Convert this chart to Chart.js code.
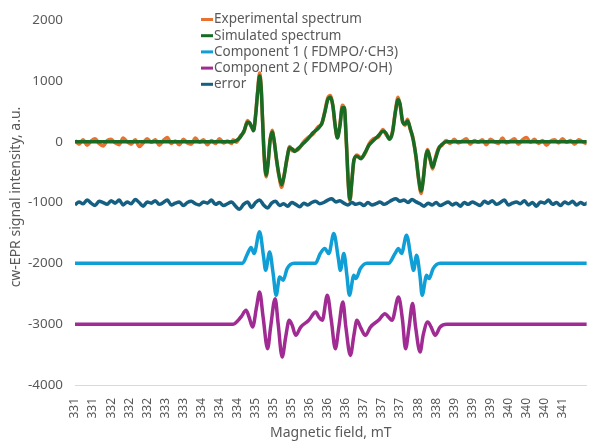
<!DOCTYPE html>
<html><head><meta charset="utf-8">
<script src="https://cdn.jsdelivr.net/npm/chart.js@4/dist/chart.umd.min.js"></script>
<style>html,body{margin:0;padding:0;background:#fff}canvas{display:block}</style>
</head><body>
<canvas id="c" width="590" height="442"></canvas>
<script>
// ---------- data ----------
const seriesNames = ['Experimental spectrum','Simulated spectrum','Component 1 ( FDMPO/\u00B7CH3)','Component 2 ( FDMPO/\u00B7OH)','error'];
const seriesColors = ['#E97132','#196B24','#0F9ED5','#A02B93','#156082'];
const xAxisTitle = 'Magnetic field, mT';
const yAxisTitle = 'cw-EPR signal intensity, a.u.';

const fieldTickLabels = ['331','331','332','332','332','333','333','334','334','334','335','335','335','336','336','336','337','337','337','338','338','339','339','339','340','340','340','341'];
const fieldTickStart = 331.0;
const fieldTickStep = 0.36;
const fieldMin = 331.0;
const fieldMax = 341.2;
const yTickValues = [2000,1000,0,-1000,-2000,-3000,-4000];

// simulated spectrum (mT, a.u.)
const simField = [331.0,334.15,334.22,334.30,334.37,334.44,334.48,334.52,334.56,334.60,334.64,334.68,334.71,334.74,334.77,334.81,334.85,334.89,334.93,334.97,335.02,335.07,335.12,335.17,335.22,335.28,335.33,335.38,335.45,335.55,335.65,335.75,335.85,335.92,335.98,336.04,336.09,336.14,336.19,336.23,336.28,336.33,336.37,336.41,336.45,336.48,336.52,336.56,336.62,336.70,336.78,336.86,336.95,337.05,337.14,337.20,337.27,337.33,337.39,337.44,337.48,337.53,337.58,337.63,337.68,337.74,337.80,337.85,337.90,337.94,337.99,338.03,338.08,338.13,338.18,338.25,338.32,338.40,341.3];
const simValues = [0,0,20,80,180,320,310,250,180,420,800,1080,900,350,-200,-550,-350,20,160,20,-300,-560,-710,-560,-300,-100,-120,-160,-110,-30,50,150,220,300,480,690,730,600,250,60,250,560,560,0,-700,-950,-650,-300,-240,-280,-180,-60,20,100,170,140,40,150,500,690,620,330,290,340,230,40,-250,-600,-810,-650,-250,-150,-280,-420,-300,-120,-40,0,0];

// experimental spectrum: noisy baseline left, resonance region, noisy baseline right
const expLeftStart = 331.0, expLeftStep = 0.08;
const expLeftValues = [20,-40,30,-60,10,50,-30,-70,20,40,-20,-50,60,0,-40,30,-80,-20,50,-10,30,-60,20,70,-30,10,-50,40,-20,-40,60,-10,30,-50,20,-30,50,-20,10,-30];
const expMidField = [334.15,334.22,334.30,334.37,334.44,334.48,334.52,334.56,334.60,334.64,334.68,334.71,334.74,334.77,334.81,334.85,334.89,334.93,334.97,335.02,335.07,335.12,335.17,335.22,335.28,335.33,335.38,335.45,335.55,335.65,335.75,335.85,335.92,335.98,336.04,336.09,336.14,336.19,336.23,336.28,336.33,336.37,336.41,336.45,336.48,336.52,336.56,336.62,336.70,336.78,336.86,336.95,337.05,337.14,337.20,337.27,337.33,337.39,337.44,337.48,337.53,337.58,337.63,337.68,337.74,337.80,337.85,337.90,337.94,337.99,338.03,338.08,338.13,338.18,338.25,338.32,338.40];
const expMidValues = [30,-10,100,160,350,300,240,200,440,820,1130,920,340,-220,-580,-330,40,190,10,-320,-580,-750,-540,-320,-80,-150,-140,-130,-10,70,130,250,290,500,720,760,590,230,80,270,600,540,-30,-720,-980,-630,-320,-220,-260,-200,-40,50,80,200,120,60,170,520,730,600,350,270,370,210,60,-270,-620,-850,-620,-280,-130,-300,-450,-280,-100,-60,20];
const expRightStart = 338.48, expRightStep = 0.08;
const expRightValues = [-30,40,-20,10,50,-40,20,-10,30,-50,40,0,-30,60,-20,10,50,-40,30,70,-10,40,-30,20,-60,10,30,-20,50,-10,20,-40,30,0,-30,20];

// component 1 (offset -2000)
const comp1Field = [331.0,334.34,334.44,334.51,334.57,334.68,334.76,334.80,334.88,334.95,335.01,335.08,335.15,335.23,335.37,335.79,335.89,335.98,336.06,336.16,336.25,336.29,336.36,336.42,336.47,336.56,336.60,336.69,336.82,337.25,337.38,337.45,337.51,337.61,337.70,337.75,337.81,337.88,337.92,338.01,338.06,338.14,338.28,341.3];
const comp1Values = [-2000,-2000,-1839,-1740,-1839,-1482,-1894,-2114,-1812,-2168,-2525,-2223,-2278,-2086,-2000,-2000,-1839,-1757,-1839,-1510,-1921,-2114,-1839,-2196,-2525,-2196,-2251,-2086,-2000,-2000,-1839,-1757,-1839,-1537,-1921,-2114,-1866,-2223,-2525,-2196,-2251,-2086,-2000,-2000];

// component 2 (offset -3000)
const comp2Field = [331.0,334.14,334.31,334.41,334.47,334.54,334.62,334.68,334.75,334.84,334.90,334.99,335.05,335.13,335.20,335.27,335.33,335.40,335.50,335.66,335.80,335.86,335.93,336.03,336.11,336.19,336.26,336.34,336.40,336.49,336.56,336.62,336.69,336.79,336.89,337.05,337.18,337.25,337.32,337.45,337.53,337.59,337.66,337.73,337.79,337.88,337.94,338.03,338.10,338.18,338.28,338.41,341.3];
const comp2Values = [-3000,-3003,-2882,-2772,-2882,-3047,-2717,-2470,-2882,-3404,-3047,-2580,-2992,-3541,-3212,-2937,-3019,-3184,-3047,-2937,-2800,-2882,-2937,-2525,-2937,-3404,-3047,-2635,-3047,-3513,-3184,-2937,-3047,-3184,-3047,-2937,-2827,-2882,-2937,-2553,-2937,-3404,-3047,-2662,-3047,-3459,-3184,-2964,-3047,-3184,-3047,-3003,-3000];

// error (offset -1000), uniform sweep
const errStart = 331.0, errStep = 0.08;
const errValues = [-1040,-990,-1020,-960,-1010,-1050,-980,-1000,-1030,-970,
-1010,-960,-1040,-990,-1020,-950,-1000,-1060,-990,-1010,
-970,-1030,-1000,-960,-1040,-1010,-990,-1050,-1000,-980,
-1020,-1040,-990,-1010,-960,-1030,-1000,-1050,-1020,-990,
-1060,-1110,-1030,-990,-1080,-1000,-960,-1040,-1090,-1010,
-980,-1050,-1020,-1060,-1000,-1030,-1070,-1010,-1040,-1000,
-980,-1020,-1000,-960,-940,-990,-970,-1010,-1040,-1000,
-1030,-1010,-1050,-1000,-1040,-1020,-990,-1030,-1000,-960,
-940,-980,-960,-1000,-950,-990,-1020,-1060,-1010,-1040,
-1000,-1050,-1020,-990,-1040,-1010,-1060,-1000,-1030,-990,
-1020,-1050,-980,-1010,-970,-1030,-1000,-960,-1040,-1010,
-990,-1020,-970,-1040,-1000,-1060,-990,-1010,-960,-1030,
-1000,-1050,-990,-1020,-980,-1040,-1000,-1030,-990];

// ---------- build points ----------
const pairs = (xs, ys) => xs.map((x, i) => ({x, y: ys[i]}));
const grid = (start, step, ys) => ys.map((y, i) => ({x: +(start + i * step).toFixed(3), y}));
const expPoints = grid(expLeftStart, expLeftStep, expLeftValues)
  .concat(pairs(expMidField, expMidValues))
  .concat(grid(expRightStart, expRightStep, expRightValues));
const simPoints = pairs(simField, simValues);
const comp1Points = pairs(comp1Field, comp1Values);
const comp2Points = pairs(comp2Field, comp2Values);
const errPoints = grid(errStart, errStep, errValues);

const allPoints = [expPoints, simPoints, comp1Points, comp2Points, errPoints];
const FONT = '"Noto Sans", "Liberation Sans", sans-serif';
const TXT = '#595959';

const legendPlugin = {
  id: 'customLegend',
  afterDatasetsDraw(chart) {
    const ctx = chart.ctx;
    ctx.save();
    ctx.font = '13.5px ' + FONT;
    ctx.textBaseline = 'middle';
    ctx.textAlign = 'left';
    seriesNames.forEach((name, i) => {
      const y = 19.5 + i * 16.2;
      ctx.strokeStyle = seriesColors[i];
      ctx.lineWidth = 3;
      ctx.beginPath(); ctx.moveTo(201, y); ctx.lineTo(213, y); ctx.stroke();
      ctx.fillStyle = TXT;
      ctx.fillText(name, 214, y);
    });
    // vertical axis title
    ctx.translate(16, 197);
    ctx.rotate(-Math.PI / 2);
    ctx.font = '14px ' + FONT;
    ctx.textAlign = 'center';
    ctx.fillText(yAxisTitle, 0, 0);
    ctx.restore();
  }
};

new Chart(document.getElementById('c'), {
  type: 'line',
  data: {
    datasets: allPoints.map((pts, i) => ({
      label: seriesNames[i],
      data: pts,
      borderColor: seriesColors[i],
      backgroundColor: seriesColors[i],
      borderWidth: 3.5,
      pointRadius: 0,
      fill: false,
      cubicInterpolationMode: 'monotone',
      order: 5 - i
    }))
  },
  options: {
    responsive: false,
    devicePixelRatio: 1,
    animation: false,
    events: [],
    layout: { padding: { top: 20, right: 1, left: 0, bottom: 0 } },
    plugins: { legend: { display: false }, tooltip: { enabled: false } },
    scales: {
      x: {
        type: 'linear',
        min: fieldMin,
        max: fieldMax,
        afterBuildTicks: (scale) => {
          scale.ticks = fieldTickLabels.map((_, i) => ({ value: fieldTickStart + i * fieldTickStep }));
        },
        afterFit: (scale) => { scale.height = 57; },
        ticks: {
          autoSkip: false,
          minRotation: 90,
          maxRotation: 90,
          padding: 13,
          color: TXT,
          font: { family: FONT, size: 12 },
          callback: (v, i) => fieldTickLabels[i]
        },
        grid: { display: false, drawTicks: false },
        border: { display: true, color: '#D9D9D9', width: 1 },
        title: { display: true, text: xAxisTitle, color: TXT, font: { family: FONT, size: 14 }, padding: { top: 0, bottom: 1 } }
      },
      y: {
        type: 'linear',
        min: -4000,
        max: 2000,
        afterBuildTicks: (scale) => { scale.ticks = yTickValues.map(v => ({ value: v })); },
        afterFit: (scale) => { scale.width = 75; },
        ticks: {
          padding: 12,
          color: TXT,
          font: { family: FONT, size: 13.4 },
          callback: (v) => String(v)
        },
        grid: { display: false, drawTicks: false },
        border: { display: false },
        title: { display: false }
      }
    }
  },
  plugins: [legendPlugin]
});
</script>
</body></html>
